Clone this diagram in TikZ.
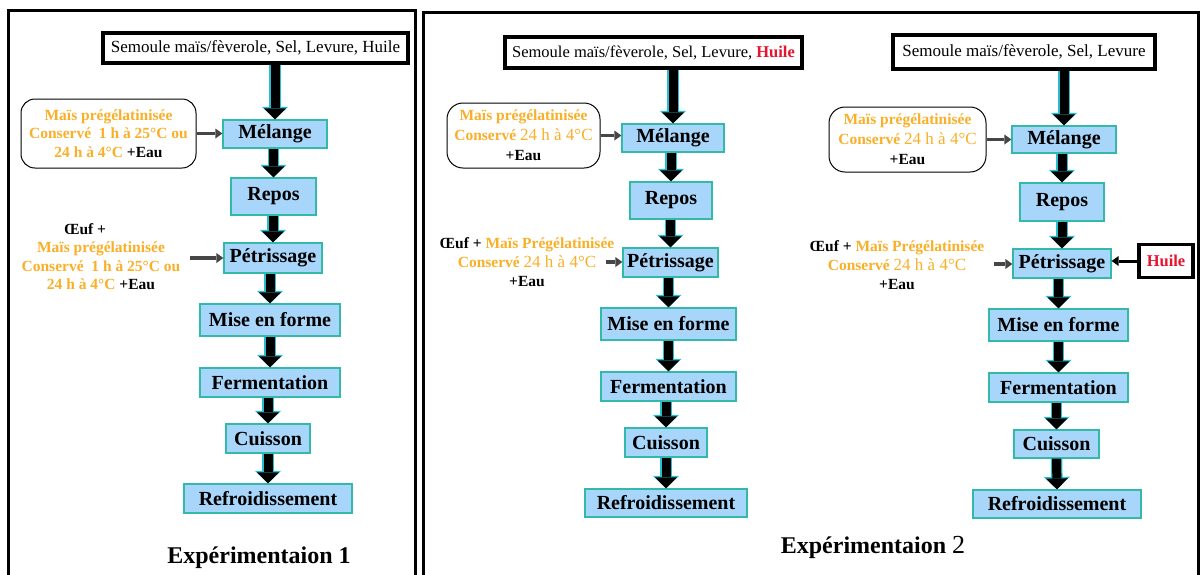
\documentclass[tikz,border=0pt]{standalone}
\usepackage{fontspec}
\setmainfont{Liberation Serif}
\usetikzlibrary{arrows.meta}
\definecolor{boxfill}{RGB}{168,214,250}
\definecolor{boxedge}{RGB}{50,185,170}
\definecolor{orangetxt}{RGB}{250,175,40}
\definecolor{redtxt}{RGB}{230,20,45}
\definecolor{arrowedge}{RGB}{40,190,210}
\definecolor{thinarrow}{RGB}{70,70,70}
\begin{document}
\begin{tikzpicture}[x=1pt,y=-1pt,
 frame/.style={draw=black, line width=3pt},
 topbox/.style={draw=black, line width=3.2pt, fill=white, inner sep=0pt, font=\fontsize{17}{19}\selectfont},
 procbox/.style={draw=boxedge, fill=boxfill, line width=1.2pt, inner sep=0pt, font=\fontsize{20}{22}\selectfont\bfseries},
 inbox/.style={draw=black, line width=1pt, rounded corners=14pt, fill=white},
 otext/.style={align=center, font=\fontsize{15.5}{18.5}\selectfont\bfseries, text=orangetxt, inner sep=0pt},
 btext/.style={align=center, font=\fontsize{15.5}{19}\selectfont\bfseries, inner sep=0pt},
 blk/.style={line width=9pt, -{Triangle[width=22pt,length=11pt,line width=0pt]},
   preaction={draw=arrowedge, line width=11.5pt, -{Triangle[width=26pt,length=12.5pt,line width=0pt]}}},
 thinarr/.style={draw=thinarrow, line width=3.5pt, -{Triangle[width=10pt,length=7pt,line width=0pt]}},
 titletext/.style={font=\fontsize{24}{26}\selectfont\bfseries}
]
\useasboundingbox (0,0) rectangle (1203,574);
\fill[white] (0,0) rectangle (1203,574);
\draw[frame] (8,10) rectangle (415,600);
\draw[frame] (423,12) rectangle (1198,600);

% ---------------- Experimentation 1
\node[topbox, minimum width=305pt, minimum height=30pt] (t1) at (255.5,48) {Semoule maïs/fèverole, Sel, Levure, Huile};
\node[procbox, minimum width=104pt, minimum height=28pt] (m1) at (275,134) {Mélange};
\node[procbox, minimum width=85pt, minimum height=37pt] (r1) at (273.5,196.5) {Repos};
\node[procbox, minimum width=98pt, minimum height=30pt] (p1) at (273,258) {Pétrissage};
\node[procbox, minimum width=140pt, minimum height=32pt] (f1) at (270,320) {Mise en forme};
\node[procbox, minimum width=140pt, minimum height=29pt] (e1) at (270,382.5) {Fermentation};
\node[procbox, minimum width=84pt, minimum height=29pt] (c1) at (268,438.5) {Cuisson};
\node[procbox, minimum width=168pt, minimum height=29pt] (d1) at (268,498.5) {Refroidissement};

\draw[blk] (m1.north |- t1.south) -- (m1.north);
\draw[blk] (m1.south -| r1.north) -- (r1.north);
\draw[blk] (r1.south -| p1.north) -- (p1.north);
\draw[blk] (p1.south -| f1.north) -- (f1.north);
\draw[blk] (f1.south) -- (e1.north);
\draw[blk] (e1.south -| c1.north) -- (c1.north);
\draw[blk] (c1.south) -- (d1.north);

\node[inbox, otext, minimum width=175pt, minimum height=69pt] (i1) at (108.5,133.5) {Maïs prégélatinisée\\Conservé\ \ 1 h à 25°C ou\\24 h à 4°C \textcolor{black}{+Eau}};
\draw[thinarr] (i1.east) -- (i1.east -| m1.west);

\node[btext] (o1a) at (85,229) {Œuf +};
\node[otext] (o1) at (101,266) {Maïs prégélatinisée\\Conservé\ \ 1 h à 25°C ou\\24 h à 4°C \textcolor{black}{+Eau}};
\coordinate (o1e) at (190,258);
\draw[thinarr] (o1e) -- (o1e -| p1.west);

\node[titletext] (ti1) at (259,558) {Expérimentaion 1};

% ---------------- Experimentation 2 (a)
\node[topbox, font=\fontsize{16.5}{19}\selectfont, minimum width=297pt, minimum height=31pt] (t2) at (653.5,52.5) {Semoule maïs/fèverole, Sel, Levure, \textcolor{redtxt}{\bfseries Huile}};
\node[procbox, minimum width=102pt, minimum height=28pt] (m2) at (673,138) {Mélange};
\node[procbox, minimum width=82pt, minimum height=37pt] (r2) at (671,200.5) {Repos};
\node[procbox, minimum width=95pt, minimum height=29pt] (p2) at (670.5,262.5) {Pétrissage};
\node[procbox, minimum width=135pt, minimum height=32pt] (f2) at (668.5,324) {Mise en forme};
\node[procbox, minimum width=135pt, minimum height=29pt] (e2) at (668.5,386.5) {Fermentation};
\node[procbox, minimum width=82pt, minimum height=29pt] (c2) at (666,442.5) {Cuisson};
\node[procbox, minimum width=162pt, minimum height=28pt] (d2) at (666,503) {Refroidissement};

\draw[blk] (m2.north |- t2.south) -- (m2.north);
\draw[blk] (m2.south -| r2.north) -- (r2.north);
\draw[blk] (r2.south -| p2.north) -- (p2.north);
\draw[blk] (p2.south -| f2.north) -- (f2.north);
\draw[blk] (f2.south) -- (e2.north);
\draw[blk] (e2.south -| c2.north) -- (c2.north);
\draw[blk] (c2.south) -- (d2.north);

\node[inbox, otext, font=\fontsize{15.5}{20}\selectfont\bfseries, rounded corners=16pt, minimum width=153pt, minimum height=65pt] (i2) at (523.5,135.5) {Maïs prégélatinisée\\Conservé {\mdseries\fontsize{17}{20}\selectfont 24 h à 4°C}\\\textcolor{black}{+Eau}};
\draw[thinarr] (i2.east) -- (i2.east -| m2.west);

\node[btext] (o2) at (527,262) {Œuf + \textcolor{orangetxt}{Maïs Prégélatinisée}\\\textcolor{orangetxt}{Conservé {\mdseries\fontsize{17}{19}\selectfont 24 h à 4°C}}\\+Eau};
\coordinate (o2e) at (606,262);
\draw[thinarr] (o2e) -- (o2e -| p2.west);

% ---------------- Experimentation 2 (b)
\node[topbox, minimum width=262pt, minimum height=34pt] (t3) at (1024,52) {Semoule maïs/fèverole, Sel, Levure};
\node[procbox, minimum width=104pt, minimum height=27pt] (m3) at (1064,139.5) {Mélange};
\node[procbox, minimum width=84pt, minimum height=38pt] (r3) at (1062,202) {Repos};
\node[procbox, minimum width=98pt, minimum height=29pt] (p3) at (1062,263.5) {Pétrissage};
\node[procbox, minimum width=139pt, minimum height=32pt] (f3) at (1058.5,325) {Mise en forme};
\node[procbox, minimum width=139pt, minimum height=29pt] (e3) at (1058.5,387.5) {Fermentation};
\node[procbox, minimum width=85pt, minimum height=28pt] (c3) at (1056.5,444) {Cuisson};
\node[procbox, minimum width=168pt, minimum height=28pt] (d3) at (1057,504) {Refroidissement};

\draw[blk] (m3.north |- t3.south) -- (m3.north);
\draw[blk] (m3.south -| r3.north) -- (r3.north);
\draw[blk] (r3.south -| p3.north) -- (p3.north);
\draw[blk] (p3.south -| f3.north) -- (f3.north);
\draw[blk] (f3.south) -- (e3.north);
\draw[blk] (e3.south -| c3.north) -- (c3.north);
\draw[blk] (c3.south) -- (d3.north);

\node[inbox, otext, font=\fontsize{15.5}{20}\selectfont\bfseries, rounded corners=16pt, minimum width=157pt, minimum height=65pt] (i3) at (907.5,139.5) {Maïs prégélatinisée\\Conservé {\mdseries\fontsize{17}{20}\selectfont 24 h à 4°C}\\\textcolor{black}{+Eau}};
\draw[thinarr] (i3.east) -- (i3.east -| m3.west);

\node[btext] (o3) at (897,265) {Œuf + \textcolor{orangetxt}{Maïs Prégélatinisée}\\\textcolor{orangetxt}{Conservé {\mdseries\fontsize{17}{19}\selectfont 24 h à 4°C}}\\+Eau};
\coordinate (o3e) at (994,264);
\draw[thinarr] (o3e) -- (o3e -| p3.west);

\node[topbox, font=\fontsize{16.5}{18}\selectfont\bfseries, text=redtxt, minimum width=54pt, minimum height=33pt] (h3) at (1166,261) {Huile};
\draw[line width=3pt, black, -{Triangle[width=10pt,length=7pt,line width=0pt]}] (h3.west) -- (h3.west -| p3.east);

\node[titletext] (ti2) at (873,547) {Expérimentaion {\mdseries\fontsize{26}{28}\selectfont 2}};
\end{tikzpicture}
\end{document}
